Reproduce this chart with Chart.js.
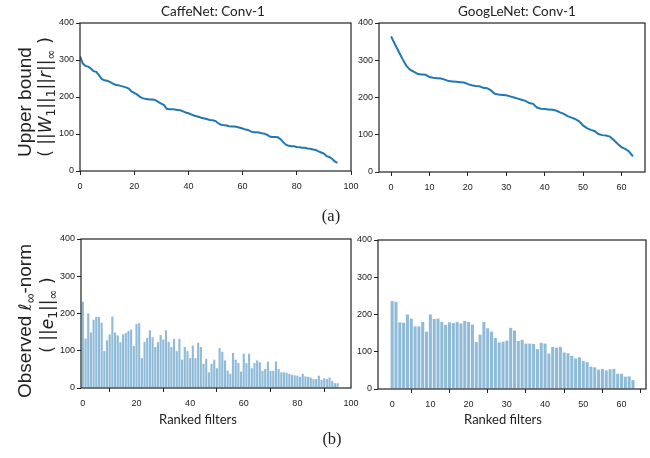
<!DOCTYPE html>
<html>
<head>
<meta charset="utf-8">
<script src="https://cdn.jsdelivr.net/npm/chart.js@4.4.1/dist/chart.umd.min.js"></script>
<style>
  html, body { margin: 0; padding: 0; background: #fff; }
  #fig { position: relative; width: 650px; height: 458px; overflow: hidden; }
  #fig canvas { position: absolute; left: 0; top: 0; }
  .txt { position: absolute; transform: translate(-50%, -50%); white-space: nowrap; color: #222; }
  .title { font-family: Lato, sans-serif; font-size: 13.5px; }
  .ylab { font-family: 'Liberation Sans', Arial, sans-serif; font-size: 19px; transform: translate(-50%, -50%) rotate(-90deg); }
  .math { font-family: 'DejaVu Sans', sans-serif; font-size: 17px; }
  .math sub { font-size: 72%; vertical-align: -0.3em; line-height: 0; }
  .panel { font-family: 'Liberation Serif', serif; font-size: 16.5px; }
</style>
</head>
<body>
<div id="fig">
  <canvas id="c-caffe-up" width="650" height="458"></canvas>
  <canvas id="c-goog-up" width="650" height="458"></canvas>
  <canvas id="c-caffe-obs" width="650" height="458"></canvas>
  <canvas id="c-goog-obs" width="650" height="458"></canvas>

  <div class="txt title" style="left:213px; top:11px;">CaffeNet: Conv-1</div>
  <div class="txt title" style="left:517px; top:11px;">GoogLeNet: Conv-1</div>

  <div class="txt ylab" style="left:25px; top:102px;">Upper bound</div>
  <div class="txt ylab math" style="left:45px; top:97px;">( ||<i>W</i><sub>1</sub>||<sub>1</sub>||<i>r</i>||<sub>∞</sub> )</div>
  <div class="txt ylab" style="left:25px; top:321px;">Observed <i class="math">ℓ</i><sub style="font-size:72%;vertical-align:-0.3em;line-height:0;">∞</sub>-norm</div>
  <div class="txt ylab math" style="left:47px; top:315px;">( ||<i>e</i><sub>1</sub>||<sub>∞</sub> )</div>

  <div class="txt panel" style="left:331px; top:216px;">(a)</div>
  <div class="txt title" style="left:198px; top:419px; font-size:13px;">Ranked filters</div>
  <div class="txt title" style="left:503px; top:419px; font-size:13px;">Ranked filters</div>
  <div class="txt panel" style="left:332px; top:439px;">(b)</div>
</div>

<script>
// Conv-1 filters ranked by upper bound; top row = bound, bottom row = observed norm

const caffeUpper = [
  310, 291, 284, 282, 277, 270, 268, 259, 249, 245,
  244, 241, 237, 233, 232, 230, 228, 226, 223, 215,
  211, 207, 201, 197, 195, 194, 193, 193, 191, 186,
  182, 178, 168, 167, 167, 166, 165, 164, 161, 158,
  156, 153, 150, 148, 146, 143, 142, 140, 138, 137,
  135, 129, 125, 124, 123, 121, 120, 120, 119, 117,
  115, 112, 111, 107, 105, 105, 104, 102, 101, 98,
  93, 92, 92, 91, 86, 78, 71, 68, 67, 67,
  65, 64, 63, 63, 61, 60, 58, 57, 53, 50,
  47, 40, 38, 33, 26, 22
];

const googUpper = [
  364, 343, 323, 303, 285, 274, 269, 263, 262, 261,
  255, 253, 252, 251, 248, 244, 243, 242, 241, 240,
  236, 233, 231, 230, 226, 225, 219, 210, 208, 207,
  206, 203, 200, 197, 194, 191, 185, 183, 173, 170,
  169, 168, 167, 165, 160, 156, 150, 146, 142, 136,
  125, 118, 113, 110, 102, 99, 98, 95, 86, 76,
  67, 62, 55, 42
];

const caffeObserved = [
  232, 133, 200, 149, 183, 191, 191, 175, 99, 128,
  144, 192, 149, 141, 123, 144, 148, 153, 157, 113,
  172, 174, 80, 124, 135, 155, 136, 110, 123, 142,
  130, 155, 124, 110, 132, 99, 132, 76, 110, 99,
  80, 114, 80, 121, 110, 65, 78, 42, 65, 76,
  53, 107, 97, 74, 47, 38, 94, 76, 67, 44,
  92, 67, 92, 53, 67, 74, 69, 46, 51, 71,
  46, 46, 71, 51, 42, 42, 41, 38, 35, 34,
  33, 30, 38, 31, 30, 28, 24, 24, 33, 22,
  26, 24, 28, 19, 13, 13
];

const googObserved = [
  236, 234, 179, 178, 200, 189, 168, 168, 180, 154,
  200, 188, 189, 180, 172, 179, 177, 180, 176, 183,
  180, 173, 126, 146, 180, 163, 154, 137, 125, 127,
  130, 164, 157, 129, 132, 122, 122, 121, 107, 124,
  122, 95, 113, 111, 113, 98, 96, 89, 82, 85,
  75, 72, 60, 58, 52, 54, 50, 53, 54, 41,
  41, 33, 34, 24
];

const yTicks = [0, 100, 200, 300, 400];
const caffeTicks = [0, 20, 40, 60, 80, 100];
const googTicks = [0, 10, 20, 30, 40, 50, 60];

const LINE_BLUE = '#1f77b4';
const BAR_BLUE = 'rgba(31, 119, 180, 0.5)';
const INK = '#222';
const Y_AXIS_W = 30;
const X_AXIS_H = 22;

// black box around the plot area, like matplotlib spines
const framePlugin = {
  id: 'frame',
  afterDatasetsDraw(chart) {
    const { ctx, chartArea: a } = chart;
    ctx.save();
    ctx.strokeStyle = INK;
    ctx.lineWidth = 1.2;
    ctx.strokeRect(a.left, a.top, a.right - a.left, a.bottom - a.top);
    ctx.restore();
  }
};

const tickFont = { family: "'Liberation Sans', Arial, sans-serif", size: 9 };

function axis(min, max, ticks, isX) {
  return {
    type: 'linear',
    min, max,
    offset: false,
    afterBuildTicks: s => { s.ticks = ticks.map(v => ({ value: v })); },
    afterFit: s => { if (isX) s.height = X_AXIS_H; else s.width = Y_AXIS_W; },
    grid: { drawOnChartArea: false, drawTicks: true, tickLength: 4, color: INK, lineWidth: 1 },
    border: { display: false },
    ticks: { font: tickFont, color: INK, padding: isX ? 6 : 2, autoSkip: false, maxRotation: 0 }
  };
}

// plot box in page pixels: left, top, right, bottom
function makeChart(id, type, values, box, xMin, xMax, xTicks) {
  const [left, top, right, bottom] = box;
  const dataset = type === 'line'
    ? { data: values.map((v, i) => ({ x: i, y: v })), borderColor: LINE_BLUE, borderWidth: 2, pointRadius: 0, tension: 0, fill: false }
    : { data: values.map((v, i) => ({ x: i, y: v })), backgroundColor: BAR_BLUE, borderWidth: 0, barPercentage: 0.8, categoryPercentage: 1 };

  return new Chart(document.getElementById(id), {
    type,
    data: { datasets: [dataset] },
    options: {
      responsive: false,
      animation: false,
      events: [],
      layout: {
        padding: { left: left - Y_AXIS_W, top, right: 650 - right, bottom: 458 - bottom - X_AXIS_H }
      },
      plugins: { legend: { display: false }, tooltip: { enabled: false } },
      scales: {
        x: axis(xMin, xMax, xTicks, true),
        y: axis(0, 400, yTicks, false)
      }
    },
    plugins: [framePlugin]
  });
}

makeChart('c-caffe-up', 'line', caffeUpper, [80, 23, 351, 171], 0, 100, caffeTicks);
makeChart('c-goog-up', 'line', googUpper, [379, 23, 645, 172], -3.15, 66.15, googTicks);
makeChart('c-caffe-obs', 'bar', caffeObserved, [81, 239, 351, 388], -0.7, 100, caffeTicks);
makeChart('c-goog-obs', 'bar', googObserved, [378, 240, 646, 389], -3.7, 66.4, googTicks);
</script>
</body>
</html>
